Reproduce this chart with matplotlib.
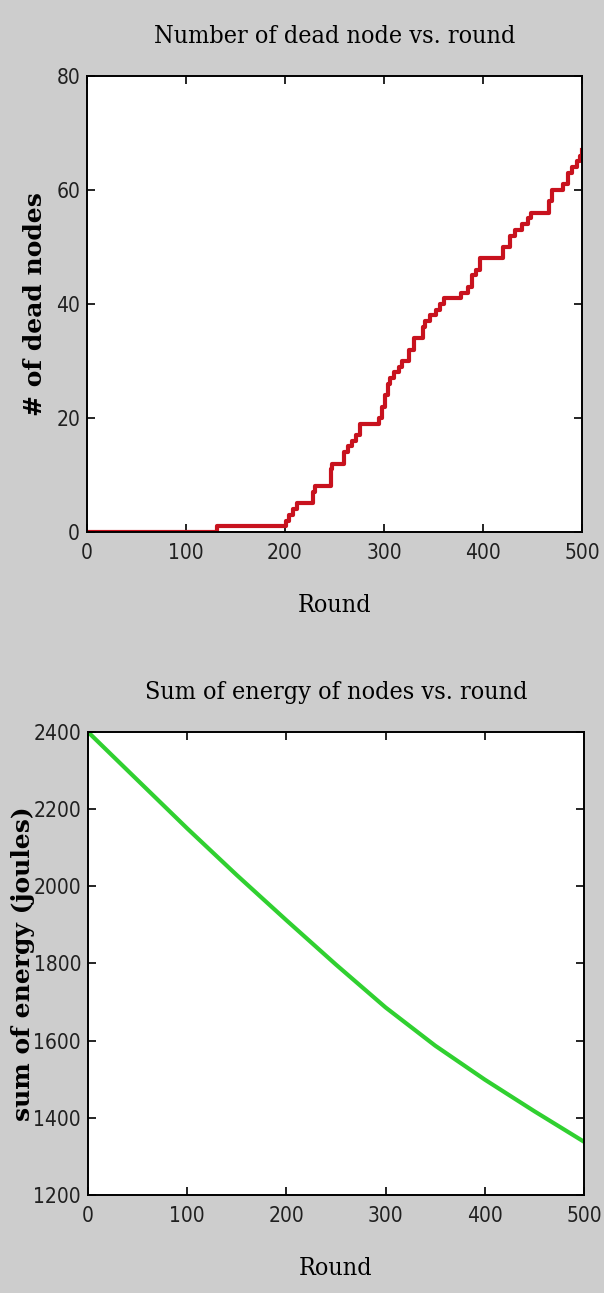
import matplotlib
matplotlib.use("Agg")
import matplotlib.pyplot as plt

# dead nodes: round at which the count changes, and the new count
dead_round = [0, 131, 201, 204, 208, 212, 228, 230, 246, 248, 260, 264, 268,
              272, 276, 295, 298, 301, 304, 306, 310, 315, 318, 325, 330,
              339, 341, 347, 353, 357, 361, 378, 385, 389, 393, 397, 420,
              427, 432, 439, 445, 449, 467, 470, 481, 486, 490, 495, 498, 500]
dead_count = [0, 1, 2, 3, 4, 5, 7, 8, 11, 12, 14, 15, 16,
              17, 19, 20, 22, 24, 26, 27, 28, 29, 30, 32, 34,
              36, 37, 38, 39, 40, 41, 42, 43, 45, 46, 48, 50,
              52, 53, 54, 55, 56, 58, 60, 61, 63, 64, 65, 66, 67]

# total energy of nodes
energy_round = [0, 50, 100, 150, 200, 250, 300, 350, 400, 450, 500]
energy_sum = [2400, 2275, 2150, 2029, 1912, 1797, 1686, 1587, 1499, 1417, 1338]

round_ticks = [0, 100, 200, 300, 400, 500]
dead_ticks = [0, 20, 40, 60, 80]
energy_ticks = [1200, 1400, 1600, 1800, 2000, 2200, 2400]

bg = "#cdcdcd"
title_font = dict(family="DejaVu Serif", stretch="condensed", size=18)
ylab_font = dict(family="DejaVu Serif", weight="bold", size=18)

fig = plt.figure(figsize=(6.04, 12.93), dpi=100, facecolor=bg)
ax1 = fig.add_axes([0.144, 0.5886, 0.8195, 0.3527])
ax2 = fig.add_axes([0.1457, 0.0758, 0.8212, 0.3581])


def style(ax, yticks):
    ax.set_xlim(0, 500)
    ax.set_ylim(yticks[0], yticks[-1])
    ax.set_xticks(round_ticks)
    ax.set_yticks(yticks)
    ax.tick_params(direction="in", length=6, width=1.2, top=True, right=True,
                   colors="black")
    ax.tick_params(axis="x", pad=8)
    ax.tick_params(axis="y", pad=5)
    for lab in ax.get_xticklabels() + ax.get_yticklabels():
        lab.set_fontfamily("DejaVu Sans")
        lab.set_fontstretch("condensed")
        lab.set_fontsize(15)
        lab.set_color("#202020")
    for s in ax.spines.values():
        s.set_linewidth(1.4)
    ax.set_xlabel("Round", labelpad=22, **title_font)


ax1.step(dead_round, dead_count, where="post", color="#c8121e", lw=3)
style(ax1, dead_ticks)
ax1.set_title("Number of dead node vs. round", pad=24, **title_font)
ax1.set_ylabel("# of dead nodes", **ylab_font)
ax1.yaxis.set_label_coords(-0.08, 0.5)

ax2.plot(energy_round, energy_sum, color="#30d030", lw=3)
style(ax2, energy_ticks)
ax2.set_title("Sum of energy of nodes vs. round", pad=24, **title_font)
ax2.set_ylabel("sum of energy (joules)", **ylab_font)
ax2.yaxis.set_label_coords(-0.106, 0.5)

fig.savefig("out.png", dpi=100, facecolor=bg)
